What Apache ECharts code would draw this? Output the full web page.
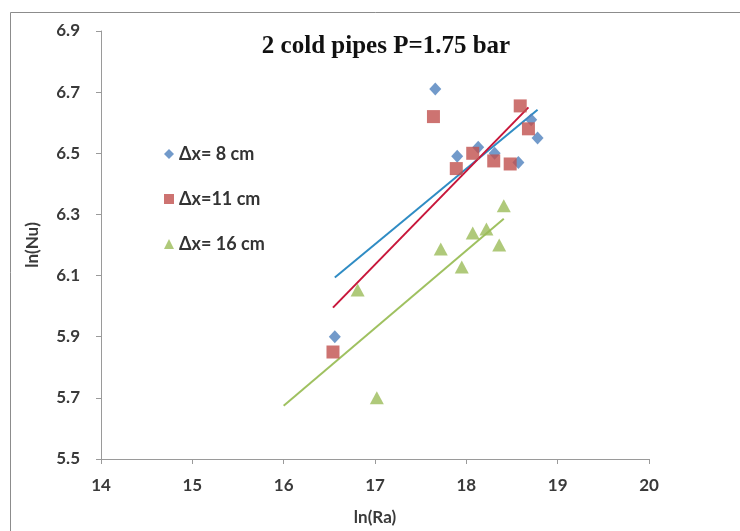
<!DOCTYPE html>
<html>
<head>
<meta charset="utf-8">
<script src="https://cdn.jsdelivr.net/npm/echarts@6/dist/echarts.min.js"></script>
<style>
  html, body { margin: 0; padding: 0; background: #fff; }
  #chart { width: 740px; height: 531px; }
</style>
</head>
<body>
<div id="chart"></div>
<script>
// ln(Ra) / ln(Nu) measurements for each pipe spacing
const lnRa8  = [16.56, 17.66, 17.90, 18.13, 18.31, 18.57, 18.71, 18.78];
const lnNu8  = [5.90, 6.71, 6.49, 6.52, 6.50, 6.47, 6.61, 6.55];
const lnRa11 = [16.54, 17.64, 17.89, 18.07, 18.30, 18.48, 18.59, 18.68];
const lnNu11 = [5.85, 6.62, 6.45, 6.50, 6.475, 6.465, 6.655, 6.58];
const lnRa16 = [16.81, 17.02, 17.72, 17.95, 18.07, 18.22, 18.36, 18.41];
const lnNu16 = [6.053, 5.70, 6.187, 6.128, 6.239, 6.252, 6.20, 6.328];

const seriesNames = ['\u0394x= 8 cm', '\u0394x=11 cm', '\u0394x= 16 cm'];
// lower x bound of each fitted line (the 16 cm fit is extended backward)
const trendFrom = [null, null, 16];

const xTicks = [14, 15, 16, 17, 18, 19, 20];
const yTicks = [5.5, 5.7, 5.9, 6.1, 6.3, 6.5, 6.7, 6.9];

const markColors  = ['#4F81BD', '#C0504D', '#9BBB59'];
const lineColors  = ['#2F8CC4', '#C8163A', '#9FC160'];
const symbols     = ['diamond', 'rect', 'triangle'];
const symbolSizes = [[12, 13], [13, 13], [14, 13]];

// least-squares fit y = a + b x
function linFit(xs, ys) {
  const n = xs.length;
  const mx = xs.reduce((s, v) => s + v, 0) / n;
  const my = ys.reduce((s, v) => s + v, 0) / n;
  let sxy = 0, sxx = 0;
  for (let i = 0; i < n; i++) {
    sxy += (xs[i] - mx) * (ys[i] - my);
    sxx += (xs[i] - mx) * (xs[i] - mx);
  }
  const b = sxy / sxx;
  return { a: my - b * mx, b: b };
}

const sets = [[lnRa8, lnNu8], [lnRa11, lnNu11], [lnRa16, lnNu16]];
const series = [];
sets.forEach(([xs, ys], i) => {
  const fit = linFit(xs, ys);
  const x0 = trendFrom[i] !== null ? trendFrom[i] : Math.min(...xs);
  const x1 = Math.max(...xs);
  series.push({
    name: seriesNames[i] + ' fit',
    type: 'line',
    data: [[x0, fit.a + fit.b * x0], [x1, fit.a + fit.b * x1]],
    showSymbol: false,
    symbol: 'none',
    lineStyle: { color: lineColors[i], width: 2 },
    z: 2,
    silent: true
  });
});
sets.forEach(([xs, ys], i) => {
  series.push({
    name: seriesNames[i],
    type: 'scatter',
    data: xs.map((x, k) => [x, ys[k]]),
    symbol: symbols[i],
    symbolSize: symbolSizes[i],
    itemStyle: { color: markColors[i] },
    z: 3
  });
});

const labelFont = { fontFamily: 'Lato, "Open Sans", sans-serif', fontWeight: 'bold', fontSize: 17, color: '#3a3a3a' };

const chart = echarts.init(document.getElementById('chart'), null, { renderer: 'canvas' });
chart.setOption({
  animation: false,
  backgroundColor: '#fff',
  title: {
    text: '2 cold pipes P=1.75 bar',
    left: 381,
    top: 29,
    textAlign: 'center',
    textStyle: { fontFamily: '"Liberation Serif", "Times New Roman", serif', fontWeight: 'bold', fontSize: 25, color: '#111' }
  },
  legend: {
    data: seriesNames,
    orient: 'vertical',
    left: 159,
    top: 140,
    itemGap: 27,
    itemWidth: 10,
    itemHeight: 10,
    textStyle: { fontFamily: 'Lato, "Open Sans", sans-serif', fontWeight: 'bold', fontSize: 18, color: '#333' }
  },
  grid: { left: 101, right: 91, top: 31, bottom: 72 },
  xAxis: {
    type: 'value',
    min: xTicks[0],
    max: xTicks[xTicks.length - 1],
    interval: 1,
    name: 'ln(Ra)',
    nameLocation: 'middle',
    nameGap: 50,
    nameTextStyle: labelFont,
    axisLine: { lineStyle: { color: '#9a9a9a', width: 1 } },
    axisTick: { show: true, length: 5, lineStyle: { color: '#9a9a9a' } },
    axisLabel: Object.assign({ margin: 18, formatter: v => String(v) }, labelFont),
    splitLine: { show: false }
  },
  yAxis: {
    type: 'value',
    min: yTicks[0],
    max: yTicks[yTicks.length - 1],
    name: 'ln(Nu)',
    nameLocation: 'middle',
    nameGap: 60,
    nameRotate: 90,
    nameTextStyle: labelFont,
    axisLine: { show: true, lineStyle: { color: '#9a9a9a', width: 1 } },
    axisTick: { show: true, length: 5, customValues: yTicks, lineStyle: { color: '#9a9a9a' } },
    axisLabel: Object.assign({ margin: 21, customValues: yTicks, formatter: v => v.toFixed(1) }, labelFont),
    splitLine: { show: false }
  },
  graphic: [{
    type: 'rect',
    shape: { x: 10.5, y: 12.5, width: 760, height: 560 },
    style: { fill: 'none', stroke: '#8c8c8c', lineWidth: 1 },
    silent: true,
    z: -1
  }],
  series: series
});
</script>
</body>
</html>
